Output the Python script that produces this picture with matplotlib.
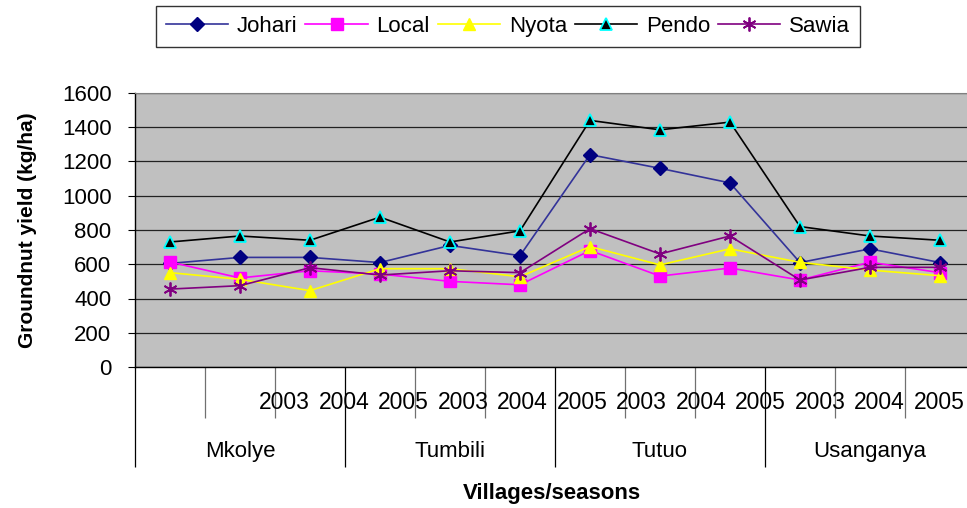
import matplotlib.pyplot as plt
import matplotlib.transforms as mtransforms
import numpy as np

# ---------- data ----------
villages = ['Mkolye', 'Tumbili', 'Tutuo', 'Usanganya']
seasons = ['2003', '2004', '2005']
johari = [605, 640, 640, 610, 710, 650, 1240, 1160, 1075, 610, 690, 610]
local = [613, 520, 562, 543, 500, 480, 680, 531, 578, 508, 612, 551]
nyota = [551, 512, 446, 574, 574, 527, 703, 596, 690, 611, 566, 533]
pendo = [730, 765, 740, 875, 730, 795, 1440, 1385, 1430, 820, 765, 740]
sawia = [455, 475, 580, 537, 562, 551, 808, 660, 765, 508, 582, 582]

plt.rcParams['font.family'] = ['Liberation Sans', 'DejaVu Sans']

n = len(johari)
x = np.arange(n)

# ---------- figure ----------
fig = plt.figure(figsize=(9.67, 5.08), dpi=100)
ax = fig.add_axes([135 / 967, 141 / 508, 840 / 967, 274 / 508])
ax.set_facecolor('#C0C0C0')

# series
ax.plot(x, johari, color='#333399', lw=1.2, marker='D', ms=7,
        mfc='#000080', mec='#000080', label='Johari', clip_on=False, zorder=3)
ax.plot(x, local, color='#FF00FF', lw=1.2, marker='s', ms=8,
        mfc='#FF00FF', mec='#FF00FF', label='Local', clip_on=False, zorder=3)
ax.plot(x, nyota, color='#FFFF00', lw=1.2, marker='^', ms=9,
        mfc='#FFFF00', mec='#FFFF00', label='Nyota', clip_on=False, zorder=3)
ax.plot(x, pendo, color='black', lw=1.2, marker='^', ms=8, mew=1.3,
        mfc='black', mec='#00FFFF', label='Pendo', clip_on=False, zorder=3)
ax.plot(x, sawia, color='#800080', lw=1.2, marker=(6, 2, 0), ms=10, mew=1.3,
        mfc='#800080', mec='#800080', label='Sawia', clip_on=False, zorder=3)

# axes
ax.set_xlim(-0.5, n - 0.5)
ax.set_ylim(0, 1600)
ax.set_yticks(range(0, 1601, 200))
ax.yaxis.grid(True, color='#222222', lw=0.9)
ax.set_axisbelow(True)
ax.tick_params(axis='y', labelsize=16, length=5, width=0.8, pad=12)
ax.spines['right'].set_visible(False)
ax.spines['top'].set_color('#808080')
ax.spines['left'].set_linewidth(1)
ax.spines['bottom'].set_linewidth(1)

# x ticks: long marks at village boundaries, shorter ones between seasons
group_edges = np.arange(-0.5, n, 3)
season_edges = [e for e in np.arange(-0.5, n, 1) if e not in group_edges]
ax.set_xticks(group_edges)
ax.set_xticks(season_edges, minor=True)
ax.tick_params(axis='x', which='major', length=72, width=0.9, color='black',
               labelbottom=False)
ax.tick_params(axis='x', which='minor', length=37, width=0.9, color='#707070',
               labelbottom=False)

trans = mtransforms.blended_transform_factory(ax.transData, ax.transAxes)
# season labels (drawn offset as in the original)
for i in range(n):
    ax.text(1.636 + 0.85 * i, -0.131, seasons[i % 3], transform=trans,
            ha='center', va='center', fontsize=16.5, clip_on=False)
# village labels
for j, v in enumerate(villages):
    ax.text(3 * j + 1, -0.31, v, transform=trans, ha='center', va='center',
            fontsize=16)

ax.set_ylabel('Groundnut yield (kg/ha)', fontsize=15, fontweight='bold',
              labelpad=18)
fig.text(552 / 967, 1 - 494 / 508, 'Villages/seasons', fontsize=16,
         fontweight='bold', ha='center', va='center')

leg = fig.legend(loc='center', bbox_to_anchor=(508 / 967, 1 - 26.5 / 508),
                 ncol=5, fontsize=16, frameon=True, fancybox=False,
                 handlelength=2.8, handletextpad=0.4, columnspacing=0.35,
                 borderpad=0.45)
leg.get_frame().set_edgecolor('black')
leg.get_frame().set_linewidth(1)

fig.savefig('out.png', dpi=100)
